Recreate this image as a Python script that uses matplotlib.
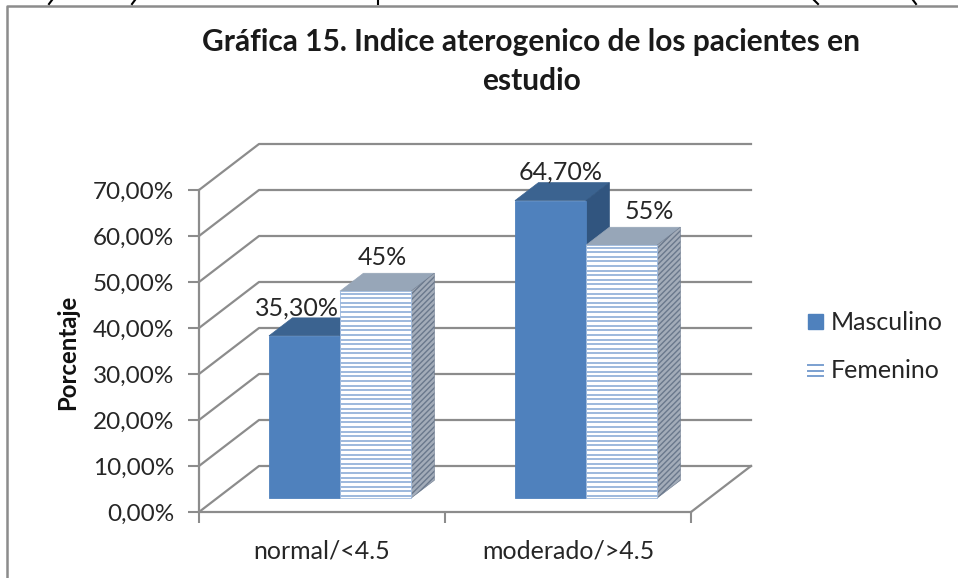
import numpy as np
import matplotlib
matplotlib.use('Agg')
import matplotlib.pyplot as plt
from matplotlib.patches import Polygon, Rectangle

plt.rcParams['font.family'] = ['Lato', 'DejaVu Sans']
plt.rcParams['hatch.linewidth'] = 1.0

categories = ['normal/<4.5', 'moderado/>4.5']
series_names = ['Masculino', 'Femenino']
masculino = [35.3, 64.7]
femenino = [45, 55]
masc_labels = ['35,30%', '64,70%']
fem_labels = ['45%', '55%']
yticks = [0, 10, 20, 30, 40, 50, 60, 70]
ytick_labels = ['0,00%', '10,00%', '20,00%', '30,00%', '40,00%', '50,00%', '60,00%', '70,00%']

# data labels were dragged by hand in the original, offsets from bar top (px)
masc_offsets = [(-8, 28), (10, 29)]
fem_offsets = [(7, 34), (28, 34)]

W, H = 958, 578
GRAY = '#8c8c8c'
BLUE = '#4f81bd'
TOP_M = '#3b6390'
SIDE_M = '#31557f'
TOP_F = '#97a6b8'
STRIPE = '#9db9dd'

# oblique depth of the 3d box, in data units
DX = 60 / 246.0
DY = 10.0
BAR_W = 71 / 246.0
D0, D1 = 0.30, 0.69


def proj(x, v, d):
    return (x + d * DX, v + d * DY)


def box(ax, x, val, top, side, striped=False, z=3):
    x0, x1 = x, x + BAR_W
    ax.add_patch(Polygon([proj(x0, val, D0), proj(x1, val, D0), proj(x1, val, D1), proj(x0, val, D1)],
                         fc=top, ec=top, lw=0.5, zorder=z, clip_on=False))
    corners = [proj(x1, 0, D0), proj(x1, val, D0), proj(x1, val, D1), proj(x1, 0, D1)]
    if striped:
        ax.add_patch(Polygon(corners, fc='#a3acb9', ec='#6a788c', hatch='//////', lw=0.4, zorder=z, clip_on=False))
    else:
        ax.add_patch(Polygon(corners, fc=side, ec=side, lw=0.5, zorder=z, clip_on=False))
    p0 = proj(x0, 0, D0)
    ax.add_patch(Rectangle(p0, BAR_W, val, fc='white' if striped else BLUE,
                           ec=STRIPE if striped else BLUE, lw=0.6, zorder=z + 0.1, clip_on=False))
    if striped:
        ys = np.arange(p0[1] + 0.5, p0[1] + val, 1.0)
        ax.hlines(ys, p0[0], p0[0] + BAR_W, color=STRIPE, lw=1.4, zorder=z + 0.2)


fig = plt.figure(figsize=(W / 100, H / 100), dpi=100)
ax = fig.add_axes([199 / W, 1 - 512 / H, 492 / W, 322 / H])
ax.set_xlim(0, 2)
ax.set_ylim(0, 70)
ax.patch.set_alpha(0)

# back wall gridlines and floor
for v in yticks:
    ax.plot([0, DX, 2 + DX], [v, v + DY, v + DY], color=GRAY, lw=1.6, zorder=1, clip_on=False)
ax.plot([2, 2 + DX], [0, DY], color=GRAY, lw=1.6, zorder=1, clip_on=False)

for i in range(len(categories)):
    x = i + 0.5
    box(ax, x - BAR_W, masculino[i], TOP_M, SIDE_M, z=3)
    box(ax, x, femenino[i], TOP_F, None, striped=True, z=4)

    px, py = proj(x - BAR_W / 2, masculino[i], D0)
    ax.annotate(masc_labels[i], (px, py), xytext=masc_offsets[i], textcoords='offset pixels',
                ha='center', va='center', fontsize=18, color='#262626', zorder=8)
    px, py = proj(x + BAR_W / 2, femenino[i], D0)
    ax.annotate(fem_labels[i], (px, py), xytext=fem_offsets[i], textcoords='offset pixels',
                ha='center', va='center', fontsize=18, color='#262626', zorder=8)

for s in ['top', 'right']:
    ax.spines[s].set_visible(False)
for s in ['left', 'bottom']:
    ax.spines[s].set_color(GRAY)
    ax.spines[s].set_linewidth(1.6)
ax.set_xticks([0, 1, 2])
ax.set_xticklabels([])
ax.set_xticks([0.5, 1.5], labels=categories, minor=True)
ax.tick_params(axis='x', which='major', length=8, width=1.5, color=GRAY)
ax.tick_params(axis='x', which='minor', length=0, pad=20, labelsize=18, labelcolor='#262626')
ax.set_yticks(yticks, labels=ytick_labels)
ax.tick_params(axis='y', length=8, width=1.5, color=GRAY, labelsize=17.5, labelcolor='#262626', pad=10)

fig.text(531 / W, 1 - 42 / H, 'Gráfica 15. Indice aterogenico de los pacientes en', ha='center', va='center',
         fontsize=21.5, fontweight='bold', color='#1a1a1a')
fig.text(531 / W, 1 - 81 / H, 'estudio', ha='center', va='center', fontsize=21.5, fontweight='bold', color='#1a1a1a')
fig.text(68 / W, 1 - 352 / H, 'Porcentaje', rotation=90, ha='center', va='center',
         fontsize=17.3, fontweight='bold', color='#111111')

# legend
fig.patches.append(Rectangle((808 / W, 1 - 329 / H), 15 / W, 15 / H, transform=fig.transFigure, fc=BLUE, ec=BLUE))
for yy in (365, 371, 376):
    fig.lines.append(plt.Line2D([808 / W, 823 / W], [1 - yy / H] * 2, transform=fig.transFigure, color='#7ba0d0', lw=1.4))
fig.text(831 / W, 1 - 322 / H, series_names[0], ha='left', va='center', fontsize=18, color='#262626')
fig.text(831 / W, 1 - 370 / H, series_names[1], ha='left', va='center', fontsize=18, color='#262626')

# chart frame, runs off the crop on the right and bottom
fig.lines.append(plt.Line2D([958 / W, 7 / W, 7 / W], [1 - 6 / H, 1 - 6 / H, 0], transform=fig.transFigure,
                            color=GRAY, lw=1.8))

# bits of body text descenders cut off above the chart, unreadable so just strokes
for x0, x1 in [(52, 49), (135, 132), (378, 378), (814, 818), (913, 916)]:
    fig.lines.append(plt.Line2D([x0 / W, x1 / W], [1.0, 1 - 4 / H], transform=fig.transFigure, color='black', lw=1.5))

fig.savefig('out.png', dpi=100)
